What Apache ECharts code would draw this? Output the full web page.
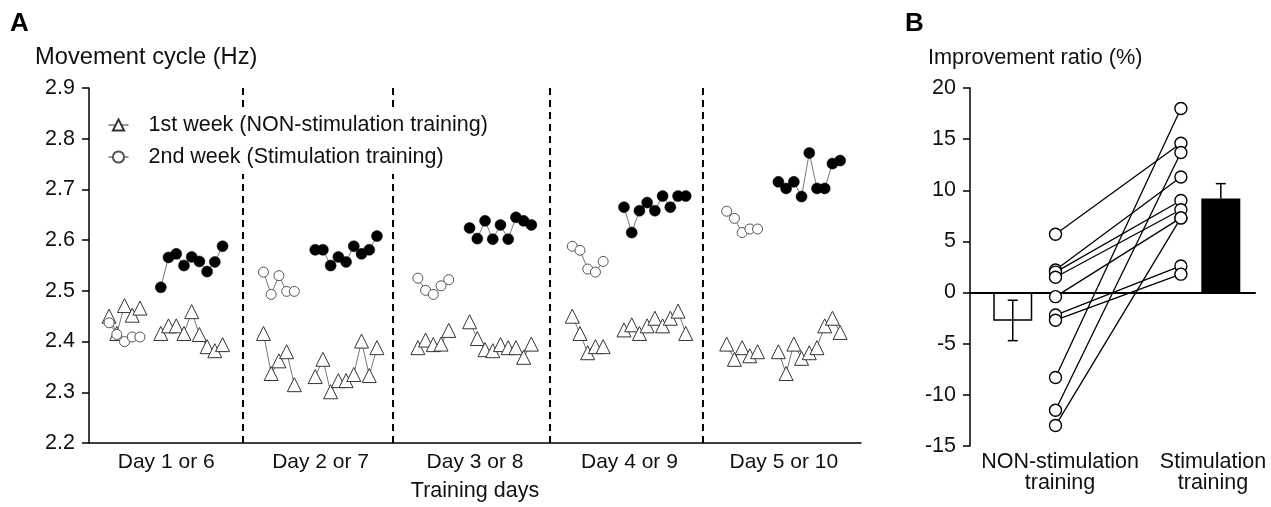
<!DOCTYPE html>
<html>
<head>
<meta charset="utf-8">
<script src="https://cdn.jsdelivr.net/npm/echarts@6/dist/echarts.min.js"></script>
<style>
  html, body { margin: 0; padding: 0; background: #fff; }
  #chart { width: 1271px; height: 507px; }
</style>
</head>
<body>
<div id="chart"></div>
<script>
// ---------------- DATA ----------------
const dayLabels = ['Day 1 or 6', 'Day 2 or 7', 'Day 3 or 8', 'Day 4 or 9', 'Day 5 or 10'];

// Panel A: movement cycle (Hz) per trial, 5 days
const week1Pre = [
  [2.450, 2.416, 2.471, 2.452, 2.466],
  [2.416, 2.337, 2.362, 2.380, 2.315],
  [2.388, 2.403, 2.394, 2.395, 2.422],
  [2.450, 2.416, 2.378, 2.390, 2.390],
  [2.395, 2.365, 2.388, 2.372, 2.380]
];
const week1Train = [
  [2.416, 2.431, 2.431, 2.416, 2.459, 2.414, 2.390, 2.382, 2.394],
  [2.331, 2.365, 2.301, 2.323, 2.323, 2.335, 2.401, 2.333, 2.388],
  [2.439, 2.406, 2.384, 2.382, 2.394, 2.388, 2.388, 2.369, 2.395],
  [2.423, 2.433, 2.416, 2.431, 2.446, 2.431, 2.446, 2.460, 2.416],
  [2.380, 2.337, 2.395, 2.367, 2.378, 2.388, 2.431, 2.446, 2.418]
];
const week2Pre = [
  [2.437, 2.414, 2.400, 2.409, 2.409],
  [2.537, 2.493, 2.530, 2.499, 2.499],
  [2.525, 2.501, 2.493, 2.510, 2.522],
  [2.588, 2.580, 2.543, 2.537, 2.558],
  [2.657, 2.643, 2.615, 2.622, 2.622]
];
const week2Stim = [
  [2.507, 2.566, 2.573, 2.550, 2.567, 2.558, 2.538, 2.557, 2.588],
  [2.581, 2.581, 2.550, 2.567, 2.557, 2.588, 2.573, 2.581, 2.608],
  [2.624, 2.603, 2.638, 2.602, 2.630, 2.602, 2.645, 2.638, 2.630],
  [2.665, 2.615, 2.658, 2.674, 2.658, 2.687, 2.665, 2.687, 2.687],
  [2.715, 2.702, 2.715, 2.686, 2.772, 2.702, 2.702, 2.751, 2.757]
];
const dayDividers = [19.9, 39.4, 59.7, 79.5];

// Panel B: improvement ratio (%) per subject
const ratioNon  = [5.7, 2.2, 2.0, 1.5, -0.4, -2.2, -2.7, -8.3, -11.5, -13.0];
const ratioStim = [14.6, 11.3, 9.0, 8.1, 7.3, 2.6, 1.8, 18.0, 13.7, 7.3];
const barMeans  = [-2.75, 9.2];
const barErrLow = [-4.7, 9.2];
const barErrHigh = [-0.75, 10.65];
const groupLabels = ['NON-stimulation\ntraining', 'Stimulation\ntraining'];

// ---------------- LAYOUT HELPERS ----------------
const DAY_W = 20, PRE_X0 = 2.6, TRAIN_X0 = 9.3;
const B_BAR_X = [1.5, 8.8], B_PT_X = [3.0, 7.4];

function dayBlocks(blocks, x0, extra) {
  const out = [];
  blocks.forEach((arr, d) => {
    arr.forEach((v, i) => out.push([d * DAY_W + x0 + i, v]));
    out.push([d * DAY_W + x0 + arr.length - 0.5, '-']);
    if (extra) {
      extra[d].forEach((v, i) => out.push([d * DAY_W + TRAIN_X0 + i, v]));
      out.push([d * DAY_W + TRAIN_X0 + extra[d].length - 0.5, '-']);
    }
  });
  return out;
}

const FONT = '"Liberation Sans", Arial, Helvetica, sans-serif';
const chart = echarts.init(document.getElementById('chart'), null, { renderer: 'canvas' });

const subjectSeries = ratioNon.map((v, i) => ({
  type: 'line',
  xAxisIndex: 2, yAxisIndex: 1,
  data: [[B_PT_X[0], v], [B_PT_X[1], ratioStim[i]]],
  symbol: 'circle', symbolSize: 12,
  lineStyle: { color: '#000', width: 1.3 },
  itemStyle: { color: '#fff', borderColor: '#000', borderWidth: 1.4 },
  z: 3, silent: true, animation: false
}));

const option = {
  animation: false,
  backgroundColor: '#fff',
  textStyle: { fontFamily: FONT },
  grid: [
    { left: 89, top: 88, width: 772, height: 358 },
    { left: 970, top: 88, width: 285, height: 358 }
  ],
  legend: {
    data: ['1st week (NON-stimulation training)', '2nd week (Stimulation training)'],
    orient: 'vertical', left: 103, top: 108,
    padding: [6, 5, 6, 5],
    backgroundColor: '#fff',
    z: 10,
    itemWidth: 20, itemHeight: 14, itemGap: 10,
    lineStyle: { color: '#333', width: 1 },
    textStyle: { fontSize: 21.5, color: '#111', fontFamily: FONT, padding: [0, 0, 0, 15], lineHeight: 21 },
    selectedMode: false
  },
  xAxis: [
    {
      gridIndex: 0, type: 'value', min: 0, max: 100,
      axisLine: { show: true, lineStyle: { color: '#000', width: 1.5 } },
      axisTick: { show: false }, axisLabel: { show: false }, splitLine: { show: false },
      name: 'Training days', nameLocation: 'middle', nameGap: 37,
      nameTextStyle: { fontSize: 21.5, color: '#111', fontFamily: FONT }
    },
    {
      gridIndex: 0, type: 'category', position: 'bottom', data: dayLabels,
      axisLine: { show: false }, axisTick: { show: false }, splitLine: { show: false },
      axisLabel: { fontSize: 21, color: '#111', margin: 9, fontFamily: FONT }
    },
    {
      gridIndex: 1, type: 'value', min: 0, max: 10,
      axisLine: { show: true, onZero: true, lineStyle: { color: '#000', width: 2 } },
      axisTick: { show: false }, axisLabel: { show: false }, splitLine: { show: false }
    }
  ],
  yAxis: [
    {
      gridIndex: 0, type: 'value', min: 2.2, max: 2.9, interval: 0.1,
      axisLine: { show: true, lineStyle: { color: '#000', width: 1.5 } },
      axisTick: { show: true, length: 7, lineStyle: { color: '#000', width: 1.5 } },
      axisLabel: { fontSize: 21.5, color: '#111', margin: 14, fontFamily: FONT,
        formatter: v => v.toFixed(1) },
      splitLine: { show: false }
    },
    {
      gridIndex: 1, type: 'value', min: -15, max: 20, interval: 5,
      axisLine: { show: true, onZero: false, lineStyle: { color: '#000', width: 1.5 } },
      axisTick: { show: true, length: 7, lineStyle: { color: '#000', width: 1.5 } },
      axisLabel: { fontSize: 21.5, color: '#111', margin: 14, fontFamily: FONT },
      splitLine: { show: false }
    }
  ],
  graphic: [
    { type: 'text', left: 10, top: 11, style: { text: 'A', font: 'bold 26px ' + FONT, fill: '#000' } },
    { type: 'text', left: 905, top: 11, style: { text: 'B', font: 'bold 26px ' + FONT, fill: '#000' } },
    { type: 'text', left: 35, top: 45, style: { text: 'Movement cycle (Hz)', font: '23.7px ' + FONT, fill: '#111' } },
    { type: 'text', left: 928, top: 47, style: { text: 'Improvement ratio (%)', font: '21.7px ' + FONT, fill: '#111' } },
    { type: 'text', x: 1060, y: 452, style: { text: groupLabels[0], font: '21.5px ' + FONT, fill: '#111', align: 'center', lineHeight: 21 } },
    { type: 'text', x: 1213, y: 452, style: { text: groupLabels[1], font: '21.5px ' + FONT, fill: '#111', align: 'center', lineHeight: 21 } }
  ],
  series: [
    {
      name: '1st week (NON-stimulation training)',
      type: 'line', xAxisIndex: 0, yAxisIndex: 0,
      data: dayBlocks(week1Pre, PRE_X0, week1Train),
      symbol: 'triangle', symbolSize: 14,
      lineStyle: { color: '#777', width: 1 },
      itemStyle: { color: '#fff', borderColor: '#333', borderWidth: 1 },
      connectNulls: false, z: 3,
      markLine: {
        silent: true, symbol: 'none', label: { show: false },
        lineStyle: { color: '#000', type: [7, 5], width: 2 },
        data: dayDividers.map(x => ({ xAxis: x }))
      }
    },
    {
      name: '2nd week (Stimulation training)',
      type: 'line', xAxisIndex: 0, yAxisIndex: 0,
      data: dayBlocks(week2Pre, PRE_X0),
      symbol: 'circle', symbolSize: 10,
      lineStyle: { color: '#777', width: 1 },
      itemStyle: { color: '#fff', borderColor: '#555', borderWidth: 1 },
      connectNulls: false, z: 3
    },
    {
      name: '2nd week stimulation trials',
      type: 'line', xAxisIndex: 0, yAxisIndex: 0,
      data: dayBlocks(week2Stim, TRAIN_X0),
      symbol: 'circle', symbolSize: 11,
      lineStyle: { color: '#777', width: 1 },
      itemStyle: { color: '#000', borderColor: '#000', borderWidth: 0.5 },
      connectNulls: false, z: 3
    },
    {
      type: 'bar', xAxisIndex: 2, yAxisIndex: 1, barWidth: 39,
      data: [
        { value: [B_BAR_X[0], barMeans[0]], itemStyle: { color: '#fff', borderColor: '#000', borderWidth: 1.5 } },
        { value: [B_BAR_X[1], barMeans[1]], itemStyle: { color: '#000', borderColor: '#000', borderWidth: 1.5 } }
      ],
      z: 2
    },
    {
      type: 'custom', xAxisIndex: 2, yAxisIndex: 1,
      data: B_BAR_X.map((x, i) => [x, barErrLow[i], barErrHigh[i]]),
      renderItem: (params, api) => {
        const x = api.value(0);
        const lo = api.coord([x, api.value(1)]);
        const hi = api.coord([x, api.value(2)]);
        const cap = 5;
        const st = { stroke: '#000', lineWidth: 1.5 };
        const children = [
          { type: 'line', shape: { x1: lo[0], y1: lo[1], x2: hi[0], y2: hi[1] }, style: st },
          { type: 'line', shape: { x1: hi[0] - cap, y1: hi[1], x2: hi[0] + cap, y2: hi[1] }, style: st }
        ];
        if (api.value(1) !== barMeans[params.dataIndex]) {
          children.push({ type: 'line', shape: { x1: lo[0] - cap, y1: lo[1], x2: lo[0] + cap, y2: lo[1] }, style: st });
        }
        return { type: 'group', children };
      },
      z: 4
    },
    ...subjectSeries
  ]
};
chart.setOption(option);
</script>
</body>
</html>
